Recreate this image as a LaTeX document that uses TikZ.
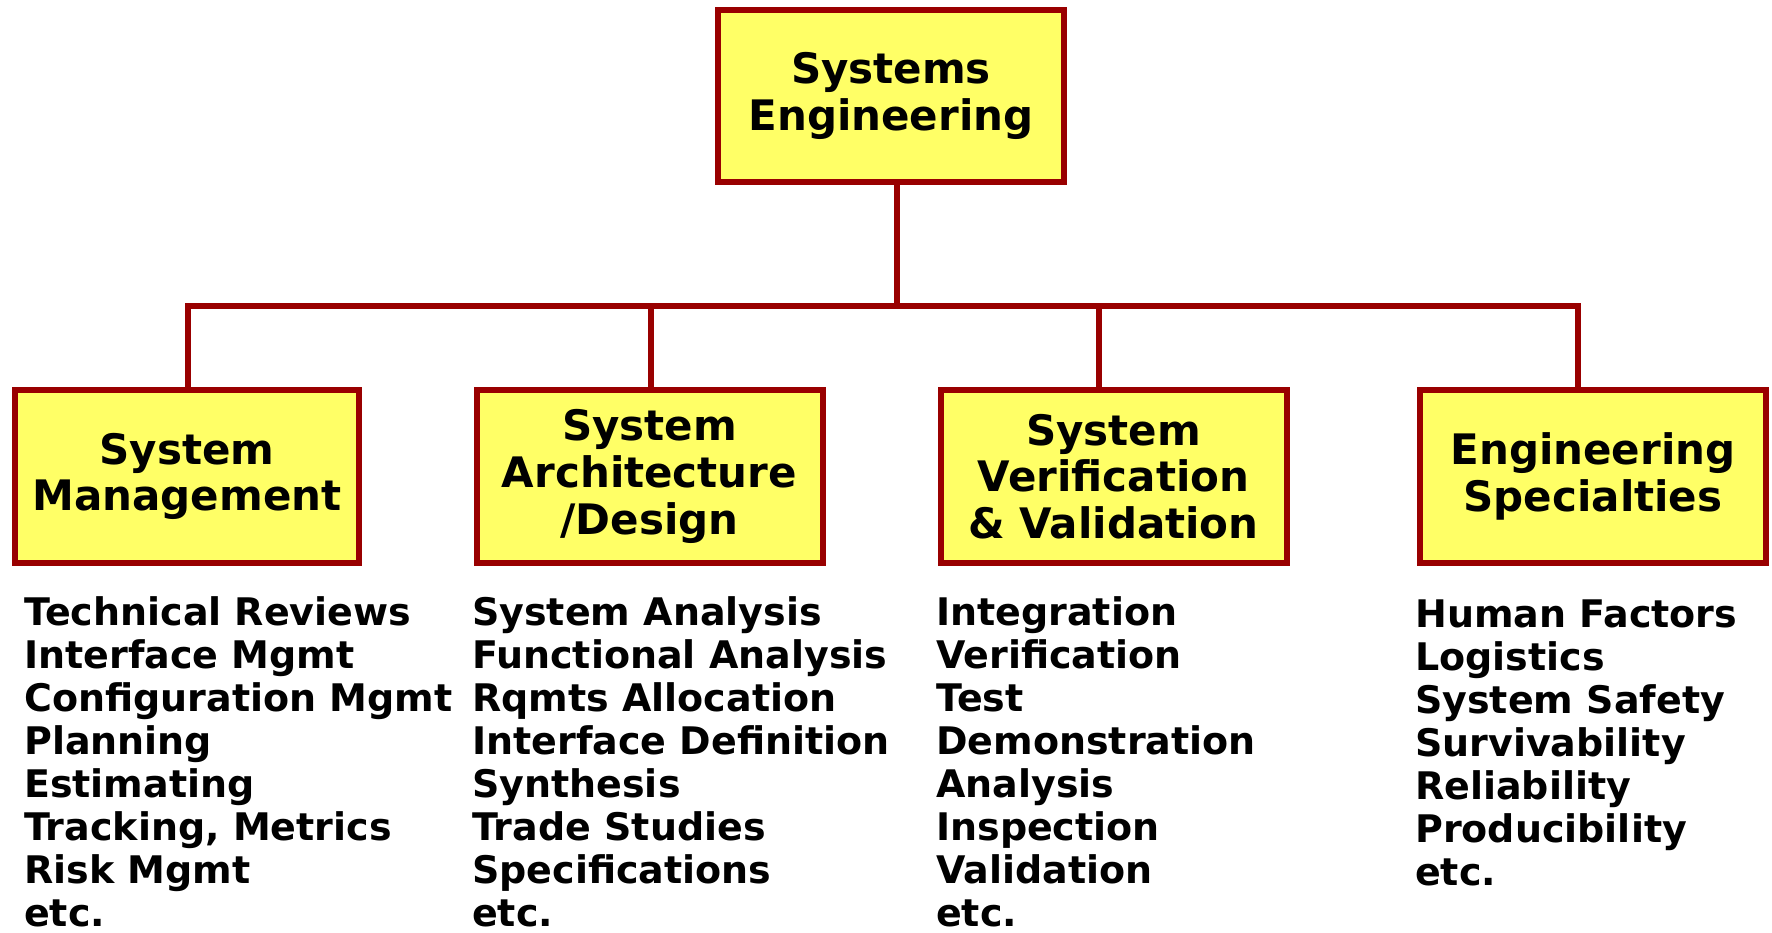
\documentclass[tikz,border=0pt]{standalone}
\usepackage{fontspec}
\setmainfont{DejaVu Sans}
\usetikzlibrary{positioning}
\definecolor{seborder}{HTML}{990000}
\definecolor{sefill}{HTML}{FFFF66}

\begin{document}
\begin{tikzpicture}[x=1pt,y=-1pt,
  box/.style={draw=seborder, fill=sefill, line width=6pt, minimum width=346pt,
    minimum height=173pt, inner sep=0pt, align=center,
    font=\bfseries\fontsize{42}{46.7}\selectfont},
  link/.style={draw=seborder, line width=6pt},
  item/.style={anchor=base west, inner sep=0pt,
    font=\bfseries\fontsize{38}{43}\selectfont}]
\useasboundingbox (0,0) rectangle (1772,932);

% boxes
\node[box, minimum height=172pt] (se) at (891,96) {Systems\\Engineering};
\node[box, minimum width=344pt] (sm) at (187,476.5) {System\\Management};
\node[box] (sad) at (649.5,476.5) {System\\Architecture\\/Design};
\node[box] (svv) at (1113.5,476.5) {System\\Verification\\\& Validation};
\node[box] (es) at (1593,476.5) {Engineering\\Specialties};

% tree lines
\coordinate (hub) at (897,306);
\coordinate (d1) at (188,306);
\coordinate (d2) at (651,306);
\coordinate (d3) at (1099,306);
\coordinate (d4) at (1578,306);
\draw[link] (se.south -| hub) -- (hub);
\draw[link] (sm.north -| d1) |- (d4) -- (es.north -| d4);
\draw[link] (d2) -- (sad.north -| d2);
\draw[link] (d3) -- (svv.north -| d3);

% lists
\foreach \txt [count=\i] in {Technical Reviews, Interface Mgmt, Configuration Mgmt,
    Planning, Estimating, {Tracking, Metrics}, Risk Mgmt, etc.}
  \node[item] (sm-\i) at (24, 625+43.1*\i-43.1) {\txt};
\foreach \txt [count=\i] in {System Analysis, Functional Analysis, Rqmts Allocation,
    Interface Definition, Synthesis, Trade Studies, Specifications, etc.}
  \node[item] (sad-\i) at (472, 625+43.1*\i-43.1) {\txt};
\foreach \txt [count=\i] in {Integration, Verification, Test, Demonstration,
    Analysis, Inspection, Validation, etc.}
  \node[item] (svv-\i) at (936, 625+43.1*\i-43.1) {\txt};
\foreach \txt [count=\i] in {Human Factors, Logistics, System Safety, Survivability,
    Reliability, Producibility, etc.}
  \node[item] (es-\i) at (1415, 627+43.1*\i-43.1) {\txt};
\end{tikzpicture}
\end{document}
